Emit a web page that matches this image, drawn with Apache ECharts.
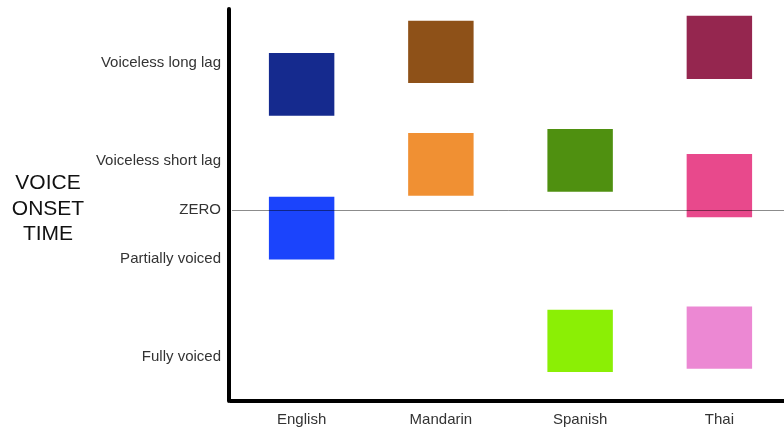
<!DOCTYPE html>
<html>
<head>
<meta charset="utf-8">
<script src="https://cdn.jsdelivr.net/npm/echarts@6/dist/echarts.min.js"></script>
<style>html,body{margin:0;padding:0;background:#fff}#c{width:784px;height:427px}</style>
</head>
<body>
<div id="c"></div>
<script>
const categories = ['English', 'Mandarin', 'Spanish', 'Thai'];
const yTickValues = [3, 1, 0, -1, -3];
const yTickLabels = ['Voiceless long lag', 'Voiceless short lag', 'ZERO', 'Partially voiced', 'Fully voiced'];
const boxCategory = [0, 0, 1, 1, 2, 2, 3, 3, 3];
const boxTop =    [3.20, 0.27, 3.86, 1.57, 1.65, -2.04, 3.96, 1.14, -1.97];
const boxBottom = [1.92, -1.01, 2.59, 0.29, 0.37, -3.31, 2.67, -0.15, -3.24];
const boxColors = ['#152A8E', '#1B44FC', '#8E5118', '#F09033', '#4F9010', '#8BEF05', '#95264F', '#E8498C', '#EC88D3'];

const boxData = boxCategory.map((c, i) => [c, boxTop[i], boxBottom[i]]);
const font = '"Liberation Sans", Arial, sans-serif';

const chart = echarts.init(document.getElementById('c'));
chart.setOption({
  animation: false,
  backgroundColor: '#fff',
  grid: { left: 232, width: 557, top: 9, bottom: 26, outerBoundsMode: 'none', containLabel: false },
  xAxis: {
    type: 'category',
    data: categories,
    axisLine: { onZero: false, lineStyle: { color: '#000', width: 4, cap: 'square' } },
    axisTick: { show: false },
    axisLabel: { color: '#333', fontSize: 15, fontFamily: font, margin: 11 },
    splitLine: { show: false }
  },
  yAxis: {
    type: 'value',
    min: -3.9,
    max: 4.1,
    interval: 0.1,
    offset: 3,
    axisLine: { show: true, lineStyle: { color: '#000', width: 4 } },
    axisTick: { show: false },
    splitLine: { show: false },
    axisLabel: {
      color: '#333', fontSize: 15, fontFamily: font, margin: 8, padding: [4, 0, 0, 0],
      formatter: function (v) {
        const r = Math.round(v * 10) / 10;
        const idx = yTickValues.indexOf(r);
        return idx >= 0 ? yTickLabels[idx] : '';
      }
    }
  },
  graphic: [{
    type: 'text',
    x: 48, y: 209,
    style: {
      text: 'VOICE\nONSET\nTIME',
      fill: '#111',
      font: '21px ' + font,
      lineHeight: 25.5,
      align: 'center',
      verticalAlign: 'middle'
    }
  }],
  series: [{
    type: 'custom',
    data: boxData,
    z: 2,
    renderItem: function (params, api) {
      const ci = api.value(0);
      const p1 = api.coord([ci, api.value(1)]);
      const p2 = api.coord([ci, api.value(2)]);
      const w = api.size([1, 0])[0] * 0.47;
      return {
        type: 'rect',
        shape: { x: p1[0] - w / 2, y: p1[1], width: w, height: p2[1] - p1[1] },
        style: { fill: boxColors[params.dataIndex] }
      };
    }
  }, {
    type: 'line',
    data: [],
    z: 5,
    markLine: {
      silent: true,
      symbol: 'none',
      label: { show: false },
      lineStyle: { color: 'rgba(0,0,0,0.45)', width: 1, type: 'solid' },
      data: [{ yAxis: 0 }]
    }
  }]
});
</script>
</body>
</html>
